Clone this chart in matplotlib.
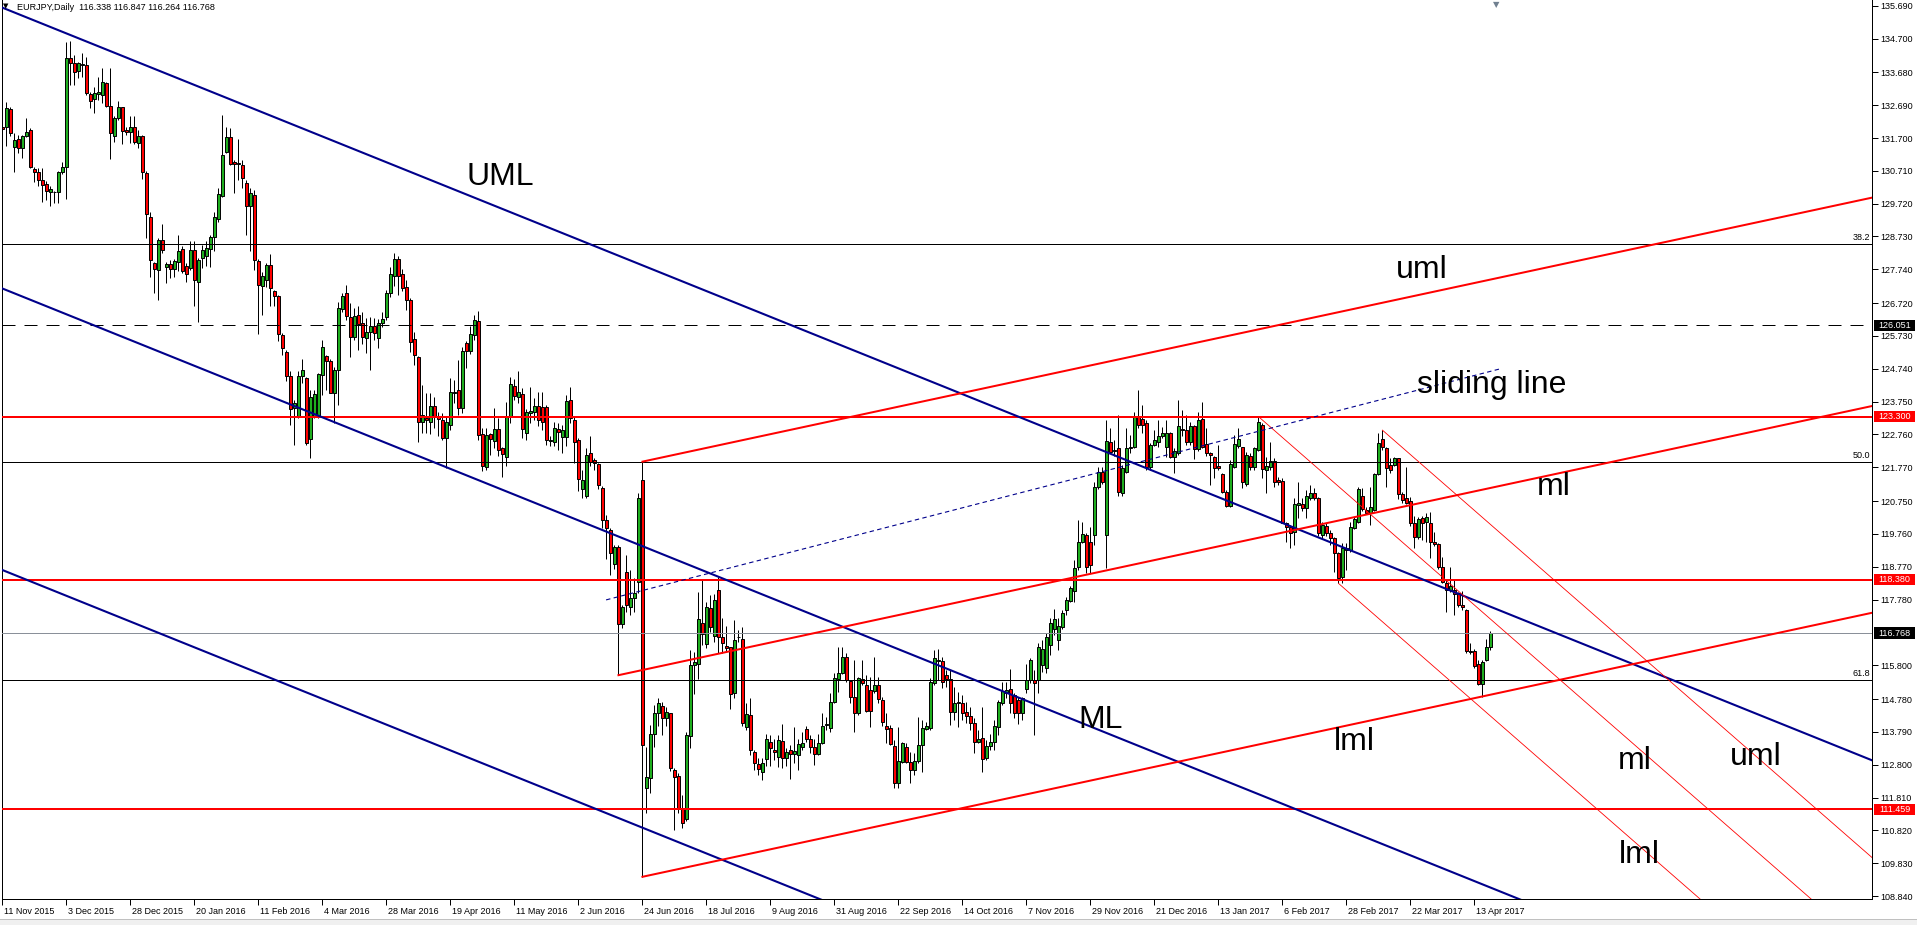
import matplotlib
matplotlib.use('Agg')
import matplotlib.pyplot as plt
import matplotlib.transforms as mtransforms
from matplotlib.patches import Rectangle
import numpy as np

plt.rcParams['font.family'] = ['Liberation Sans', 'DejaVu Sans']

# EURJPY daily candles, bar 0 = 11 Nov 2015
opens = [
    132.04, 132.02, 132.57, 131.44, 131.66, 131.39, 131.77, 131.94, 130.76, 130.67,
    130.44, 130.31, 130.06, 130.08, 130.06, 130.67, 130.84, 134.10, 133.97, 133.73,
    133.90, 133.90, 133.03, 132.88, 133.03, 133.00, 133.37, 132.67, 131.77, 132.29,
    132.63, 131.94, 131.88, 132.04, 131.54, 131.76, 130.64, 129.33, 127.92, 127.72,
    128.61, 127.80, 127.89, 127.74, 127.95, 128.35, 127.84, 127.77, 128.33, 127.35,
    128.07, 128.14, 128.35, 128.71, 129.26, 129.96, 131.29, 131.72, 130.99, 130.94,
    130.89, 130.34, 129.66, 129.98, 128.00, 127.25, 127.42, 127.87, 127.09, 126.94,
    125.76, 125.26, 124.51, 123.55, 123.30, 124.53, 124.46, 122.62, 123.30, 123.30,
    124.55, 125.13, 124.96, 124.02, 124.70, 126.53, 127.02, 126.31, 125.71, 126.36,
    126.11, 125.66, 125.86, 126.03, 125.66, 126.11, 126.29, 127.02, 127.55, 128.05,
    127.60, 127.20, 126.80, 125.63, 125.10, 123.15, 123.27, 123.15, 123.62, 123.32,
    123.20, 122.64, 123.05, 124.00, 124.10, 123.55, 125.53, 125.29, 125.76, 126.19,
    122.77, 121.79, 122.77, 122.57, 122.91, 122.34, 122.09, 123.30, 124.22, 123.88,
    123.98, 122.79, 123.42, 123.45, 123.62, 123.60, 123.60, 122.56, 122.54, 122.91,
    122.69, 122.67, 123.80, 123.20, 122.59, 121.10, 120.90, 122.19, 121.99, 121.87,
    121.13, 120.18, 119.88, 118.85, 119.38, 117.04, 118.62, 117.55, 117.82, 118.32,
    121.39, 112.09, 112.39, 113.73, 114.37, 114.57, 114.20, 114.35, 112.64, 112.46,
    111.49, 111.15, 113.67, 115.81, 115.84, 117.08, 116.44, 117.54, 116.68, 118.07,
    116.66, 116.38, 116.36, 114.95, 116.66, 116.58, 113.93, 114.30, 113.19, 112.82,
    112.59, 112.96, 113.49, 113.24, 113.04, 113.52, 112.99, 113.24, 113.12, 113.09,
    113.34, 113.87, 113.57, 113.32, 113.12, 113.44, 113.99, 113.90, 114.70, 115.38,
    115.58, 116.06, 115.31, 114.83, 114.35, 115.38, 115.20, 115.05, 115.03, 115.20,
    114.75, 113.97, 113.90, 113.36, 112.26, 112.89, 113.32, 112.89, 112.64, 112.92,
    113.39, 113.87, 113.90, 115.25, 115.94, 115.93, 115.52, 115.38, 114.40, 114.70,
    114.65, 114.40, 114.27, 114.05, 113.49, 113.62, 112.99, 113.36, 113.49, 113.95,
    114.67, 114.97, 115.07, 114.90, 114.75, 114.35, 115.07, 115.35, 115.35, 115.35,
    115.82, 115.73, 116.41, 116.90, 116.56, 116.96, 117.47, 117.75, 118.05, 118.77,
    119.53, 119.73, 119.53, 119.73, 121.18, 121.64, 119.73, 122.54, 122.27, 122.34,
    120.98, 121.64, 122.34, 122.39, 123.30, 123.22, 123.10, 121.79, 122.44, 122.54,
    122.71, 122.37, 122.79, 122.07, 122.21, 122.91, 122.89, 122.54, 123.01, 122.31,
    123.22, 122.47, 122.19, 122.07, 121.81, 121.57, 121.03, 120.60, 121.79, 122.41,
    122.37, 121.28, 122.11, 121.79, 122.29, 123.04, 121.69, 121.79, 121.97, 121.39,
    121.37, 120.10, 119.98, 119.83, 120.63, 120.66, 120.53, 120.83, 120.98, 120.83,
    119.73, 120.00, 119.79, 119.63, 119.17, 118.47, 119.27, 119.27, 119.93, 120.13,
    120.90, 120.48, 120.40, 120.48, 121.57, 122.61, 122.34, 121.84, 121.84, 122.04,
    120.96, 120.83, 120.74, 120.08, 119.68, 120.23, 120.13, 120.10, 119.53, 119.46,
    118.77, 118.27, 118.07, 118.07, 117.97, 117.62, 117.47, 116.24, 116.24, 115.83,
    115.23, 115.95, 116.338,
]
highs = [
    132.40, 132.80, 132.63, 131.84, 131.79, 131.79, 132.29, 131.99, 130.84, 130.79,
    130.79, 130.39, 130.25, 130.11, 130.69, 130.99, 134.61, 134.63, 134.20, 134.00,
    134.25, 134.13, 133.10, 133.25, 133.55, 133.80, 133.40, 133.80, 132.36, 132.82,
    132.63, 132.04, 132.35, 132.35, 131.94, 131.79, 130.69, 129.48, 127.97, 128.68,
    129.11, 127.97, 128.02, 128.04, 128.78, 128.43, 127.92, 128.58, 128.58, 128.07,
    128.46, 128.58, 128.78, 129.48, 130.19, 132.40, 132.02, 131.99, 131.04, 131.66,
    131.04, 130.44, 130.18, 130.13, 128.04, 127.67, 127.92, 128.19, 127.12, 126.97,
    125.81, 125.31, 124.66, 123.80, 124.66, 125.03, 124.49, 124.10, 124.10, 124.61,
    125.61, 125.16, 125.03, 124.80, 126.76, 127.02, 127.27, 126.71, 126.56, 126.63,
    126.46, 126.26, 126.31, 126.26, 126.23, 126.46, 127.12, 127.80, 128.23, 128.15,
    127.75, 127.42, 126.86, 125.86, 125.13, 124.25, 124.00, 124.02, 123.90, 123.45,
    123.40, 123.30, 124.45, 124.40, 125.00, 125.41, 125.59, 126.03, 126.36, 126.49,
    122.94, 122.94, 122.81, 123.55, 123.25, 122.39, 123.75, 124.48, 124.42, 124.68,
    124.15, 123.52, 124.18, 123.85, 124.05, 124.05, 123.65, 122.70, 123.15, 123.10,
    123.05, 123.95, 124.20, 123.32, 122.64, 121.69, 122.34, 122.71, 122.04, 121.91,
    121.20, 120.33, 119.93, 119.43, 119.43, 117.62, 119.12, 118.67, 118.42, 120.98,
    121.94, 113.34, 114.00, 114.60, 114.80, 114.70, 114.55, 114.37, 112.69, 112.54,
    111.89, 113.79, 116.26, 116.21, 118.02, 118.39, 117.72, 117.92, 117.95, 118.45,
    117.22, 116.98, 116.36, 117.16, 116.86, 116.96, 114.65, 114.80, 113.24, 112.99,
    112.99, 113.74, 113.69, 113.59, 113.69, 114.03, 113.29, 113.39, 113.94, 113.59,
    113.79, 113.97, 113.69, 113.59, 113.74, 114.35, 114.25, 114.95, 115.56, 116.36,
    116.34, 116.16, 115.35, 115.96, 115.43, 115.96, 115.51, 115.43, 116.06, 115.43,
    114.85, 114.37, 113.99, 113.54, 113.93, 113.49, 113.44, 113.19, 113.16, 114.25,
    114.15, 114.10, 115.40, 116.26, 116.28, 116.06, 115.66, 115.66, 115.15, 115.00,
    114.90, 114.70, 114.55, 114.20, 113.85, 114.55, 113.54, 113.74, 114.15, 114.75,
    115.30, 115.30, 115.68, 114.95, 114.85, 114.85, 115.85, 116.01, 115.66, 116.46,
    116.56, 116.76, 117.21, 117.49, 117.21, 117.47, 117.87, 118.19, 118.97, 120.18,
    120.13, 119.78, 119.98, 121.33, 121.79, 121.79, 123.20, 122.94, 122.59, 123.35,
    121.84, 122.94, 122.74, 123.45, 124.10, 123.65, 123.20, 122.49, 122.89, 123.20,
    122.99, 123.20, 122.84, 122.34, 123.80, 123.50, 123.35, 123.15, 123.04, 123.45,
    123.75, 122.94, 122.24, 122.11, 122.44, 121.59, 121.08, 121.99, 122.74, 122.94,
    122.39, 122.24, 122.19, 122.39, 123.30, 123.10, 122.09, 122.54, 122.04, 121.49,
    121.44, 120.13, 120.03, 120.83, 121.33, 120.83, 121.08, 121.23, 121.13, 120.86,
    120.13, 120.10, 119.88, 119.68, 119.22, 119.48, 119.48, 120.13, 120.28, 121.18,
    121.13, 120.58, 121.18, 121.59, 122.79, 122.89, 122.37, 122.04, 122.09, 122.04,
    121.03, 121.79, 120.88, 120.30, 120.28, 120.30, 120.38, 120.43, 119.83, 119.48,
    119.07, 118.37, 118.77, 118.37, 118.02, 118.05, 117.49, 116.46, 116.28, 115.97,
    115.95, 116.58, 116.847,
]
lows = [
    131.64, 131.46, 131.75, 130.66, 131.24, 131.11, 131.74, 130.79, 130.36, 130.24,
    129.78, 129.83, 129.66, 129.75, 129.75, 130.60, 129.86, 133.30, 133.30, 133.50,
    133.55, 133.00, 132.60, 132.45, 132.85, 132.75, 132.65, 131.06, 131.59, 132.25,
    131.51, 131.79, 131.54, 131.51, 131.39, 130.46, 128.68, 127.52, 127.02, 126.82,
    128.23, 127.32, 127.47, 127.52, 127.70, 127.62, 127.37, 127.72, 126.64, 126.16,
    127.77, 127.84, 127.82, 128.28, 129.18, 129.93, 131.24, 130.89, 130.05, 130.44,
    130.18, 128.78, 128.28, 127.72, 125.78, 126.36, 127.22, 126.62, 126.64, 125.59,
    125.16, 124.36, 123.05, 122.45, 123.25, 124.30, 122.45, 122.06, 123.25, 123.25,
    123.95, 124.10, 124.00, 123.10, 123.65, 126.45, 126.20, 125.11, 125.60, 125.31,
    125.50, 125.23, 124.70, 125.60, 125.36, 126.00, 126.20, 126.90, 127.25, 126.98,
    127.10, 126.51, 125.26, 124.85, 122.54, 122.81, 122.81, 122.77, 122.94, 122.71,
    122.59, 121.74, 122.90, 123.70, 123.35, 123.40, 124.75, 125.20, 125.60, 122.60,
    121.67, 121.70, 122.14, 122.35, 122.10, 121.49, 121.81, 123.10, 123.80, 123.70,
    122.64, 122.60, 123.10, 123.20, 123.00, 122.90, 122.45, 122.40, 122.40, 122.29,
    122.21, 122.40, 123.10, 121.91, 121.06, 120.83, 120.83, 121.80, 121.70, 121.10,
    119.95, 119.00, 118.52, 118.70, 115.50, 116.91, 117.40, 117.32, 117.42, 117.97,
    109.42, 111.35, 111.94, 113.34, 113.97, 113.70, 113.97, 112.60, 110.83, 111.35,
    110.88, 111.10, 113.29, 114.93, 115.38, 116.40, 116.31, 116.80, 116.50, 116.16,
    116.16, 116.21, 114.47, 114.80, 116.50, 113.97, 113.85, 113.10, 112.64, 112.49,
    112.34, 112.76, 112.76, 112.95, 112.74, 112.69, 112.76, 112.36, 112.84, 112.64,
    113.24, 113.49, 113.14, 112.79, 113.09, 113.41, 113.85, 113.80, 114.65, 115.00,
    115.55, 115.30, 114.65, 113.80, 114.30, 115.20, 114.40, 113.93, 114.95, 114.65,
    113.97, 113.44, 113.39, 112.09, 112.09, 112.84, 112.84, 112.24, 112.49, 112.85,
    112.59, 113.85, 113.85, 115.20, 115.35, 115.10, 115.15, 113.99, 114.15, 113.93,
    114.15, 114.05, 113.85, 113.14, 113.44, 112.59, 112.94, 113.24, 113.24, 113.69,
    114.60, 114.80, 114.35, 114.20, 114.03, 114.15, 114.95, 115.25, 113.70, 114.97,
    115.60, 115.58, 116.11, 116.70, 116.26, 116.90, 117.31, 117.70, 117.72, 118.67,
    119.50, 118.57, 118.57, 119.43, 121.10, 121.28, 118.72, 122.20, 122.10, 120.90,
    120.90, 121.60, 122.20, 122.35, 122.95, 122.79, 121.69, 121.69, 122.40, 122.39,
    122.65, 122.07, 122.04, 121.59, 122.14, 122.70, 122.45, 122.45, 122.01, 122.25,
    122.34, 122.10, 121.23, 121.44, 121.70, 120.98, 120.58, 120.56, 121.75, 122.35,
    121.13, 121.20, 121.70, 121.70, 122.25, 121.44, 121.00, 121.70, 121.18, 121.25,
    120.08, 119.53, 119.33, 119.43, 120.23, 120.45, 120.23, 120.78, 120.78, 119.69,
    119.65, 119.70, 119.43, 118.62, 118.27, 118.27, 118.67, 119.22, 119.90, 120.10,
    120.45, 120.35, 120.03, 120.45, 121.55, 122.30, 121.18, 121.60, 121.80, 120.80,
    120.70, 120.65, 120.00, 119.33, 119.60, 119.58, 119.53, 119.02, 119.40, 118.70,
    118.27, 117.41, 118.00, 117.31, 117.55, 117.47, 116.18, 116.15, 115.73, 115.20,
    114.85, 115.93, 116.264,
]
closes = [
    131.96, 132.60, 131.86, 131.64, 131.39, 131.76, 131.89, 130.84, 130.67, 130.44,
    130.29, 130.11, 130.15, 130.06, 130.66, 130.82, 134.10, 133.95, 133.70, 133.95,
    133.92, 133.07, 132.83, 133.05, 133.10, 133.38, 132.67, 131.84, 132.31, 132.65,
    131.91, 131.89, 132.04, 131.59, 131.76, 130.66, 129.40, 128.02, 127.74, 128.61,
    128.33, 127.89, 127.74, 128.00, 128.29, 127.70, 127.59, 128.33, 127.42, 128.02,
    128.33, 128.37, 128.71, 129.31, 130.00, 131.19, 131.74, 130.92, 130.91, 130.91,
    130.49, 129.66, 130.03, 128.02, 127.27, 127.54, 127.87, 127.17, 126.95, 125.78,
    125.38, 124.53, 123.52, 123.70, 124.53, 124.69, 122.50, 123.88, 123.98, 124.59,
    125.41, 124.96, 124.02, 124.70, 126.56, 126.94, 126.33, 125.71, 126.33, 126.09,
    125.69, 125.86, 126.03, 125.83, 126.11, 126.23, 127.02, 127.60, 128.05, 127.55,
    127.17, 126.80, 125.56, 125.16, 123.15, 123.35, 123.20, 123.62, 123.30, 123.22,
    122.64, 123.15, 124.04, 124.05, 123.55, 125.29, 125.29, 125.79, 126.21, 122.74,
    121.81, 122.74, 122.61, 122.91, 122.29, 122.17, 123.32, 124.27, 123.92, 124.04,
    122.91, 123.45, 123.47, 123.62, 123.20, 123.15, 122.59, 122.58, 122.94, 122.84,
    122.89, 123.78, 123.25, 122.54, 121.41, 121.39, 122.14, 121.94, 121.89, 121.24,
    120.18, 119.93, 119.18, 119.38, 117.04, 117.55, 117.62, 117.82, 117.97, 120.83,
    113.39, 112.42, 113.73, 114.35, 114.67, 114.20, 114.40, 112.69, 112.42, 111.45,
    111.03, 113.69, 115.81, 115.91, 117.18, 116.74, 117.57, 116.96, 117.77, 116.66,
    116.48, 116.31, 114.93, 116.56, 116.64, 114.07, 114.33, 113.24, 112.86, 112.66,
    112.86, 113.59, 113.29, 113.17, 113.54, 112.99, 113.19, 113.12, 113.22, 113.43,
    113.46, 113.59, 113.32, 113.12, 113.44, 113.97, 114.03, 114.70, 115.40, 115.58,
    116.06, 115.34, 114.83, 114.35, 115.40, 115.27, 114.43, 114.43, 115.20, 114.77,
    114.10, 113.87, 113.42, 112.26, 112.92, 113.44, 112.89, 112.64, 112.92, 113.39,
    113.90, 113.97, 115.28, 116.01, 115.96, 115.30, 115.38, 114.40, 114.67, 114.65,
    114.35, 114.27, 114.05, 113.49, 113.59, 112.96, 113.36, 113.49, 113.97, 114.70,
    115.03, 115.05, 114.65, 114.35, 114.35, 114.80, 115.35, 115.96, 115.25, 116.34,
    116.30, 116.66, 117.06, 117.20, 116.98, 117.38, 117.77, 118.12, 118.72, 119.53,
    119.76, 118.77, 118.82, 121.18, 121.64, 121.33, 122.57, 122.24, 122.29, 121.03,
    121.74, 122.34, 122.39, 123.30, 123.04, 123.04, 121.79, 122.44, 122.59, 122.71,
    122.81, 122.81, 122.07, 122.26, 123.01, 122.89, 122.54, 123.01, 122.31, 123.20,
    122.39, 122.19, 122.14, 121.74, 121.74, 121.03, 120.60, 121.87, 122.47, 122.61,
    121.33, 122.14, 121.79, 122.34, 123.15, 121.71, 121.81, 121.97, 121.33, 121.33,
    120.10, 119.98, 119.78, 120.66, 120.68, 120.53, 120.90, 121.00, 120.83, 119.78,
    120.03, 119.78, 119.63, 119.17, 118.42, 119.33, 119.33, 119.96, 120.20, 121.10,
    120.50, 120.40, 120.58, 121.57, 122.49, 122.37, 121.74, 121.69, 122.04, 120.96,
    120.78, 120.70, 120.08, 119.66, 120.20, 120.10, 120.28, 119.53, 119.46, 118.77,
    118.32, 118.07, 118.19, 117.95, 117.62, 117.55, 116.24, 116.21, 115.77, 115.23,
    115.90, 116.36, 116.768,
]

date_labels = ['11 Nov 2015', '3 Dec 2015', '28 Dec 2015', '20 Jan 2016', '11 Feb 2016',
               '4 Mar 2016', '28 Mar 2016', '19 Apr 2016', '11 May 2016', '2 Jun 2016',
               '24 Jun 2016', '18 Jul 2016', '9 Aug 2016', '31 Aug 2016', '22 Sep 2016',
               '14 Oct 2016', '7 Nov 2016', '29 Nov 2016', '21 Dec 2016', '13 Jan 2017',
               '6 Feb 2017', '28 Feb 2017', '22 Mar 2017', '13 Apr 2017']
label_step = 16  # bars between date labels

price_ticks = [135.690, 134.700, 133.680, 132.690, 131.700, 130.710, 129.720, 128.730,
               127.740, 126.720, 125.730, 124.740, 123.750, 122.760, 121.770, 120.750,
               119.760, 118.770, 117.780, 115.800, 114.780, 113.790, 112.800, 111.810,
               110.820, 109.830, 108.840]

# blue pitchfork (price at bar 0) and its slope per bar
blue_start = [135.63, 127.16, 118.67]
blue_slope = -0.04856
# red rising pitchfork: pivots (bar, price) for uml, ml, lml
up_pivots = [(160, 121.94), (154, 115.50), (160, 109.42)]
up_slope = 0.0259
# thin red falling pitchfork: pivots for uml, ml, lml
down_pivots = [(345, 122.89), (314, 123.30), (334, 118.27)]
down_slope = -0.1053
# sliding line end points (bar, price)
sliding_bars = [150.9, 374.8]
sliding_prices = [117.77, 124.75]

red_levels = [123.300, 118.380, 111.459]
dash_level = 126.051
last_price = 116.768
fib_high, fib_low = 149.81, 94.05
fib_levels = [38.2, 50.0, 61.8]

header = 'EURJPY,Daily  116.338 116.847 116.264 116.768'
notes = [('UML', 116.1, 130.28), ('uml', 348.4, 127.47), ('sliding line', 353.6, 124.00),
         ('ml', 383.6, 120.93), ('ML', 269.1, 113.91), ('lml', 332.9, 113.24),
         ('ml', 403.9, 112.67), ('uml', 431.9, 112.79), ('lml', 404.1, 109.84)]

# ---- figure ----
W, H = 1917, 925
fig = plt.figure(figsize=(W / 100, H / 100), dpi=100)
ax = fig.add_axes([1.5 / W, 26 / H, 1870.5 / W, 899 / H])
x_left, x_right = -0.25, 467.4
ax.set_xlim(x_left, x_right)
ax.set_ylim(108.75, 135.862)

navy = '#00008B'
bull = '#1fae1f'
bear = '#ff0000'

o = np.array(opens)
h = np.array(highs)
l = np.array(lows)
c = np.array(closes)
bars = np.arange(len(o))
colors = np.where(c >= o, bull, bear)
ax.vlines(bars, l, h, color='black', lw=0.72, zorder=2)
ax.bar(bars, np.abs(c - o), bottom=np.minimum(o, c), width=0.55, color=colors,
       edgecolor='black', linewidth=0.7, zorder=2.5)

# horizontal levels
for lv in red_levels:
    ax.axhline(lv, color='red', lw=1.44, zorder=3)
ax.axhline(dash_level, color='black', lw=0.72, dashes=(13, 9), zorder=3)
ax.axhline(last_price, color='#8a9099', lw=0.72, zorder=3)

trans_r = mtransforms.blended_transform_factory(ax.transAxes, ax.transData)
for lvl in fib_levels:
    fp = fib_high - lvl / 100 * (fib_high - fib_low)
    ax.axhline(fp, color='black', lw=0.72, zorder=3)
    ax.text(x_right - 0.4, fp + 0.06, f'{lvl:.1f}', ha='right', va='bottom', fontsize=6.5, zorder=5)

# trend lines
x_end = x_right + 5
for p0 in blue_start:
    ax.plot([-1, x_end], [p0 - blue_slope, p0 + blue_slope * x_end], color=navy, lw=1.5, zorder=4)
for b0, p0 in up_pivots:
    ax.plot([b0, x_end], [p0, p0 + up_slope * (x_end - b0)], color='red', lw=1.44, zorder=4)
for b0, p0 in down_pivots:
    ax.plot([b0, x_end], [p0, p0 + down_slope * (x_end - b0)], color='red', lw=0.6, zorder=4)
ax.plot(sliding_bars, sliding_prices, color=navy, lw=0.8, dashes=(4, 3), zorder=4)

for s, b, p in notes:
    ax.text(b, p, s, fontsize=23, ha='left', va='baseline', color='black', zorder=5)

# axes styling
for side in ['left', 'right', 'bottom']:
    ax.spines[side].set_linewidth(0.72)
    ax.spines[side].set_color('black')
ax.spines['top'].set_visible(False)
ax.yaxis.tick_right()
ax.set_yticks(price_ticks)
ax.set_yticklabels([f'{t:.3f}' for t in price_ticks])
ax.tick_params(axis='y', direction='out', length=4, width=0.72, pad=2, labelsize=6.5)
ax.set_xticks(np.arange(len(date_labels)) * label_step)
ax.set_xticklabels(date_labels)
ax.tick_params(axis='x', direction='out', length=4, width=0.72, pad=2, labelsize=6.5)
shift = mtransforms.ScaledTranslation(2 / 100, 0, fig.dpi_scale_trans)
for lbl in ax.get_xticklabels():
    lbl.set_ha('left')
    lbl.set_transform(lbl.get_transform() + shift)

# price boxes on the right scale
def price_box(price, face):
    ax.add_patch(Rectangle((1 + 2 / 1870.5, price - 0.17), 41 / 1870.5, 0.34, transform=trans_r,
                           facecolor=face, edgecolor='none', clip_on=False, zorder=6))
    ax.text(1 + 22.5 / 1870.5, price, f'{price:.3f}', transform=trans_r, ha='center',
            va='center', color='white', fontsize=6.5, clip_on=False, zorder=7)

price_box(dash_level, 'black')
price_box(last_price, 'black')
for lv in red_levels:
    price_box(lv, 'red')

# header and small markers
fig.text(17 / W, 1 - 7 / H, header, fontsize=6.5, ha='left', va='center')
fig.text(3 / W, 1 - 6 / H, '\u25bc', fontsize=5, ha='left', va='center', family='DejaVu Sans')
fig.text(1496 / W, 1.0, '\u25bc', fontsize=6, ha='center', va='top', color='#708090',
         family='DejaVu Sans')

# bottom strip
fig.add_artist(Rectangle((0, 0), 1, 5 / H, transform=fig.transFigure, facecolor='#f0f0f0',
                         edgecolor='none'))
fig.add_artist(Rectangle((0, 5 / H), 1, 1 / H, transform=fig.transFigure, facecolor='#c0c0c0',
                         edgecolor='none'))

fig.savefig('out.png', dpi=100)
